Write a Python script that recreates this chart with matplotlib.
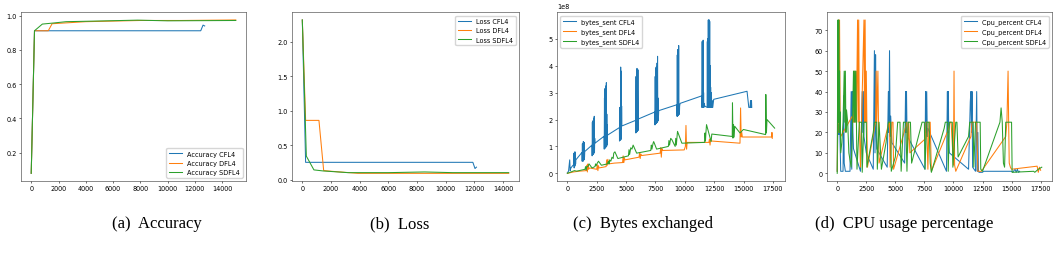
import matplotlib
matplotlib.use("Agg")
import matplotlib.pyplot as plt

# ---------------- data ----------------
# (a) Accuracy
acc_cfl_x = [0, 240, 12430, 12600, 12720]
acc_cfl_y = [0.08, 0.912, 0.912, 0.945, 0.94]
acc_dfl_x = [0, 240, 1250, 1530, 4000, 8000, 11000, 15000]
acc_dfl_y = [0.08, 0.912, 0.912, 0.953, 0.965, 0.972, 0.972, 0.975]
acc_sdfl_x = [0, 240, 815, 1600, 2560, 5000, 7800, 10000, 15000]
acc_sdfl_y = [0.08, 0.912, 0.951, 0.957, 0.965, 0.969, 0.974, 0.97, 0.972]

# (b) Loss
loss_cfl_x = [0, 230, 11900, 12050, 12150]
loss_cfl_y = [2.32, 0.25, 0.25, 0.16, 0.18]
loss_dfl_x = [0, 230, 1160, 1490, 2020, 3880, 8000, 14400]
loss_dfl_y = [2.32, 0.86, 0.86, 0.13, 0.12, 0.09, 0.09, 0.09]
loss_sdfl_x = [0, 280, 810, 1440, 3190, 6000, 8530, 10500, 14400]
loss_sdfl_y = [2.32, 0.34, 0.14, 0.125, 0.10, 0.10, 0.11, 0.10, 0.10]

# (c) Bytes sent (units of 1e8)
bytes_cfl_x = [0, 100, 200, 240, 300, 480,
               540, 560, 580, 600, 620, 640, 660, 680, 700, 720,
               1250, 1260, 1280, 1300, 1320, 1340, 1360, 1380, 1400, 1420, 1440, 1460, 1480,
               2100, 2110, 2130, 2150, 2170, 2190, 2210, 2230, 2250, 2270, 2290, 2310, 2330, 2350,
               3130, 3140, 3160, 3180, 3200, 3220, 3240, 3260, 3280, 3300, 3320, 3340, 3360, 3380, 3400, 3420,
               4430, 4440, 4460, 4480, 4500, 4520, 4540, 4560, 4580, 4600, 4620, 4640,
               5820, 5830, 5850, 5870, 5890, 5910, 5930, 5950, 5970, 5990, 6010, 6030, 6045,
               7450, 7460, 7480, 7500, 7520, 7540, 7560, 7580, 7600, 7620, 7640, 7660, 7680, 7700, 7720, 7740, 7780,
               9330, 9340, 9360, 9380, 9400, 9420, 9440, 9460, 9480, 9500, 9520, 9540, 9560, 9600,
               11450, 11460, 11480, 11500, 11520, 11540, 11560, 11580, 11600, 11620, 11650, 11700,
               11900, 11920, 11940, 11960, 11980, 12000, 12020, 12040, 12060, 12080, 12100, 12120, 12140,
               12160, 12180, 12200, 12220, 12260, 12300, 12330, 12380, 12460,
               15300, 15450, 15550, 15600, 15630, 15680, 15700]
bytes_cfl_y = [0.02, 0.08, 0.5, 0.1, 0.2, 0.3,
               0.3, 0.75, 0.2, 0.6, 0.25, 0.8, 0.3, 0.78, 0.35, 0.5,
               0.78, 0.45, 1.1, 0.5, 0.9, 0.45, 1.18, 0.55, 1.0, 0.5, 1.15, 0.6, 0.81,
               1.05, 0.65, 1.9, 0.7, 1.95, 0.7, 1.5, 0.75, 2.05, 0.75, 2.12, 0.8, 1.3, 1.12,
               1.38, 0.9, 2.8, 0.92, 3.15, 0.95, 2.5, 0.95, 3.25, 1.0, 3.37, 1.0, 2.2, 1.05, 1.8, 1.42,
               1.7, 1.2, 2.45, 1.22, 2.4, 1.25, 3.95, 1.25, 3.8, 1.3, 2.5, 1.76,
               1.97, 1.5, 3.6, 1.52, 3.8, 1.55, 3.9, 1.55, 3.2, 1.6, 3.85, 1.6, 2.02,
               2.28, 1.8, 3.6, 1.82, 3.9, 1.85, 3.95, 1.85, 3.0, 1.9, 4.1, 1.9, 4.35, 1.95, 2.8, 1.95, 2.33,
               2.55, 2.12, 4.4, 2.12, 4.6, 2.15, 3.3, 2.15, 4.75, 2.2, 2.45, 2.2, 2.5, 2.6,
               2.88, 2.45, 4.9, 2.45, 4.85, 2.5, 4.95, 2.45, 3.0, 2.45, 2.6, 2.5,
               2.45, 4.9, 2.45, 5.0, 2.45, 5.7, 2.45, 5.7, 2.45, 5.7, 2.45, 5.65, 2.45,
               4.0, 2.45, 3.2, 2.45, 3.0, 2.45, 2.7, 2.45, 2.75,
               3.05, 2.45, 2.45, 2.7, 2.45, 2.7, 2.45]
bytes_dfl_x = [0, 500, 1000, 1600, 1650, 1700, 1750, 1800, 1900, 2500, 2550, 2600, 2650, 2700,
               3300, 3350, 3400, 3450, 3500, 4000, 4700, 4750, 4800, 4850, 4900,
               6100, 6150, 6200, 6250, 6300, 7900, 7950, 8000, 8050, 8100,
               9950, 10050, 10100, 10150, 10200, 12050, 12100, 12150, 12200, 12300,
               14700, 14750, 14800, 14850, 14900, 17400, 17420, 17450]
bytes_dfl_y = [0.0, 0.05, 0.08, 0.1, 0.3, 0.05, 0.35, 0.15, 0.2, 0.15, 0.32, 0.1, 0.28, 0.2,
               0.25, 0.5, 0.3, 0.52, 0.35, 0.38, 0.4, 0.65, 0.4, 0.58, 0.5,
               0.6, 0.75, 0.55, 0.72, 0.66, 0.75, 0.95, 0.6, 0.92, 0.85,
               0.87, 1.0, 1.78, 0.9, 1.15, 1.15, 1.27, 1.05, 1.25, 1.2,
               1.12, 2.43, 1.35, 1.52, 1.35, 1.35, 1.52, 1.3]
bytes_sdfl_x = [0, 300, 600, 800, 1500, 1550, 1600, 1650, 1750, 1850, 2100,
                2350, 2400, 2450, 2550, 2650, 2900, 3400, 3500, 3550, 3600, 3700,
                3800, 3900, 3950, 4050, 4300, 5200, 5250, 5300, 5400, 5500, 5600, 5900,
                7100, 7150, 7200, 7300, 7350, 7600, 8600, 8650, 8700, 8800, 8900,
                9180, 9230, 9280, 9330, 9380, 9750, 11690, 11720, 11760, 11800, 11850,
                12240, 12300, 14040, 14060, 14100, 14150, 14200, 14250, 14700, 14990,
                16880, 16900, 16950, 17000, 17650]
bytes_sdfl_y = [0.0, 0.05, 0.1, 0.08, 0.15, 0.25, 0.12, 0.25, 0.25, 0.35, 0.2,
                0.25, 0.35, 0.28, 0.38, 0.45, 0.3, 0.35, 0.45, 0.35, 0.5, 0.45,
                0.6, 0.55, 0.75, 0.8, 0.55, 0.65, 0.88, 0.7, 0.95, 0.9, 1.05, 0.75,
                0.85, 1.05, 0.9, 1.12, 1.18, 0.9, 1.0, 1.22, 1.05, 1.3, 1.25,
                1.0, 1.3, 1.05, 1.32, 1.56, 1.12, 1.15, 1.5, 1.2, 1.52, 1.81,
                1.18, 1.46, 1.37, 2.62, 1.31, 1.81, 1.35, 1.75, 1.5, 1.63,
                1.44, 2.93, 1.5, 2.0, 1.68]

# (d) CPU percent
cpu_cfl_x = [0, 60, 100, 140, 180, 220, 300, 500, 560, 600, 700, 1100, 1200, 1250, 1300,
             1350, 1400, 2000, 2150, 2200, 2250, 2300, 2500, 3100, 3200, 3250, 3300, 3350,
             3400, 4300, 4400, 4450, 4500, 4550, 4600, 4700, 5800, 5880, 5920, 5960, 6000,
             6050, 7550, 7600, 7650, 7700, 7750, 7800, 9400, 9480, 9520, 9560, 9600, 9650,
             11300, 11450, 11500, 11550, 11600, 11650, 11900, 12000, 12050, 12100, 12150,
             12200, 12500, 12600, 15000, 15100, 15300, 15400, 15500, 15600, 15700]
cpu_cfl_y = [1, 24, 19, 24, 19, 22, 1, 1, 38, 5, 1, 1, 40, 2, 40,
             20, 12, 1, 40, 20, 40, 18, 10, 2, 60, 10, 58, 20,
             12, 3, 40, 20, 60, 18, 28, 15, 5, 40, 20, 40, 22,
             18, 2, 40, 20, 40, 18, 22, 1, 40, 20, 40, 15, 10,
             2, 35, 40, 20, 40, 3, 1, 40, 1, 20, 1,
             0.5, 0.5, 1, 1, 0.5, 2, 0.5, 2, 0.5, 1]
cpu_dfl_x = [0, 100, 150, 200, 250, 300, 500, 700, 1300, 1400, 1450, 1500, 1600, 1650,
             1750, 1800, 1850, 1900, 2000, 2300, 2350, 2400, 2450, 2500, 2550, 2600,
             3300, 3350, 3400, 3500, 3550, 3600, 4450, 4500, 4550, 4700, 4800, 4850,
             6000, 6050, 6150, 6250, 7600, 7650, 7700, 7800, 7900, 8000, 8100,
             9600, 9700, 9800, 10000, 10050, 10100, 10200, 11500, 11600, 11800, 12000,
             12100, 12400, 14500, 14600, 14700, 14750, 14800, 14900, 15000, 17200,
             17300, 17400, 17500]
cpu_dfl_y = [1, 75, 20, 75, 25, 18, 20, 22, 28, 25, 50, 25, 50, 25,
             75, 25, 75, 25, 3, 75, 25, 75, 25, 50, 25, 3,
             25, 50, 25, 50, 25, 5, 25, 25, 3, 25, 25, 2,
             25, 10, 25, 10, 17, 25, 25, 2, 25, 25, 1,
             22, 25, 25, 4, 50, 4, 1, 18, 25, 25, 25,
             1, 1, 18, 25, 50, 25, 5, 3, 2, 3.5,
             0.5, 3, 1.5]
cpu_sdfl_x = [0, 60, 100, 130, 170, 200, 230, 260, 300, 400, 500, 600, 650, 700, 750,
              800, 900, 1000, 1200, 1300, 1400, 1450, 1500, 1550, 1600, 1700, 1900,
              2100, 2150, 2300, 2500, 2550, 3100, 3200, 3400, 3450, 3600, 3800, 4200,
              4400, 4600, 4650, 5000, 5200, 5400, 5500, 5700, 5900, 6000, 6100, 6300,
              6400, 7300, 7500, 7550, 7700, 7900, 8000, 8100, 9200, 9300, 9500, 9550,
              9650, 9900, 9950, 10200, 10300, 10400, 11300, 11400, 11700, 11750, 11900,
              12300, 12350, 12500, 14000, 14100, 14200, 14300, 14400, 14500, 15000,
              15050, 16900, 17000, 17100, 17300, 17600]
cpu_sdfl_y = [0, 75, 25, 75, 20, 50, 20, 30, 10, 15, 25, 50, 25, 50, 20,
              31, 25, 10, 3, 20, 50, 25, 50, 25, 50, 2, 25,
              25, 0.5, 25, 25, 3, 20, 25, 25, 2, 25, 2, 15,
              25, 25, 1, 8, 25, 25, 1, 25, 25, 1, 25, 25,
              5, 25, 25, 2, 25, 25, 5, 0.5, 22, 25, 25, 1,
              25, 25, 3, 25, 25, 8, 18, 25, 25, 3, 25,
              25, 2, 1, 25, 32, 25, 5, 3, 25, 25,
              0.5, 1, 0.5, 1, 2, 3]

# ---------------- style ----------------
FS = 4.7
LW = 0.75
plt.rcParams.update({
    "font.family": "DejaVu Sans",
    "font.size": FS,
    "axes.linewidth": 0.4,
    "xtick.major.width": 0.4,
    "ytick.major.width": 0.4,
    "xtick.major.size": 1.6,
    "ytick.major.size": 1.6,
    "xtick.major.pad": 1.5,
    "ytick.major.pad": 1.5,
    "legend.fontsize": FS,
})
C_B, C_O, C_G = "#1f77b4", "#ff7f0e", "#2ca02c"

fig = plt.figure(figsize=(10.59, 2.55), dpi=100)
W, H = 1059.0, 255.0

def add_ax(left, right, top=13.3, bottom=182.0):
    return fig.add_axes([left / W, 1 - bottom / H, (right - left) / W, (bottom - top) / H])

ax1 = add_ax(21, 246)
ax2 = add_ax(292, 519)
ax3 = add_ax(557, 785)
ax4 = add_ax(827, 1052)

ax1.plot(acc_cfl_x, acc_cfl_y, color=C_B, lw=LW, label="Accuracy CFL4")
ax1.plot(acc_dfl_x, acc_dfl_y, color=C_O, lw=LW, label="Accuracy DFL4")
ax1.plot(acc_sdfl_x, acc_sdfl_y, color=C_G, lw=LW, label="Accuracy SDFL4")
ax1.set_xticks(range(0, 14001, 2000))
ax1.legend(loc="lower right")

ax2.plot(loss_cfl_x, loss_cfl_y, color=C_B, lw=LW, label="Loss CFL4")
ax2.plot(loss_dfl_x, loss_dfl_y, color=C_O, lw=LW, label="Loss DFL4")
ax2.plot(loss_sdfl_x, loss_sdfl_y, color=C_G, lw=LW, label="Loss SDFL4")
ax2.set_xticks(range(0, 14001, 2000))
ax2.legend(loc="upper right")

scale = 1e8
ax3.plot(bytes_cfl_x, [v * scale for v in bytes_cfl_y], color=C_B, lw=LW, label="bytes_sent CFL4")
ax3.plot(bytes_dfl_x, [v * scale for v in bytes_dfl_y], color=C_O, lw=LW, label="bytes_sent DFL4")
ax3.plot(bytes_sdfl_x, [v * scale for v in bytes_sdfl_y], color=C_G, lw=LW, label="bytes_sent SDFL4")
ax3.set_xticks(range(0, 17501, 2500))
ax3.legend(loc="upper left")

ax4.plot(cpu_cfl_x, cpu_cfl_y, color=C_B, lw=LW, label="Cpu_percent CFL4")
ax4.plot(cpu_dfl_x, cpu_dfl_y, color=C_O, lw=LW, label="Cpu_percent DFL4")
ax4.plot(cpu_sdfl_x, cpu_sdfl_y, color=C_G, lw=LW, label="Cpu_percent SDFL4")
ax4.set_xticks(range(0, 17501, 2500))
ax4.legend(loc="upper right")

for ax in (ax1, ax2, ax3, ax4):
    for s in ax.spines.values():
        s.set_color("#333333")

captions = ["(a)  Accuracy", "(b)  Loss", "(c)  Bytes exchanged", "(d)  CPU usage percentage"]
cap_x = [157, 400, 643, 904]
for t, x in zip(captions, cap_x):
    fig.text(x / W, 1 - 224 / H, t, ha="center", va="center",
             family="Liberation Serif", fontsize=12)

fig.savefig("out.png", dpi=100)
